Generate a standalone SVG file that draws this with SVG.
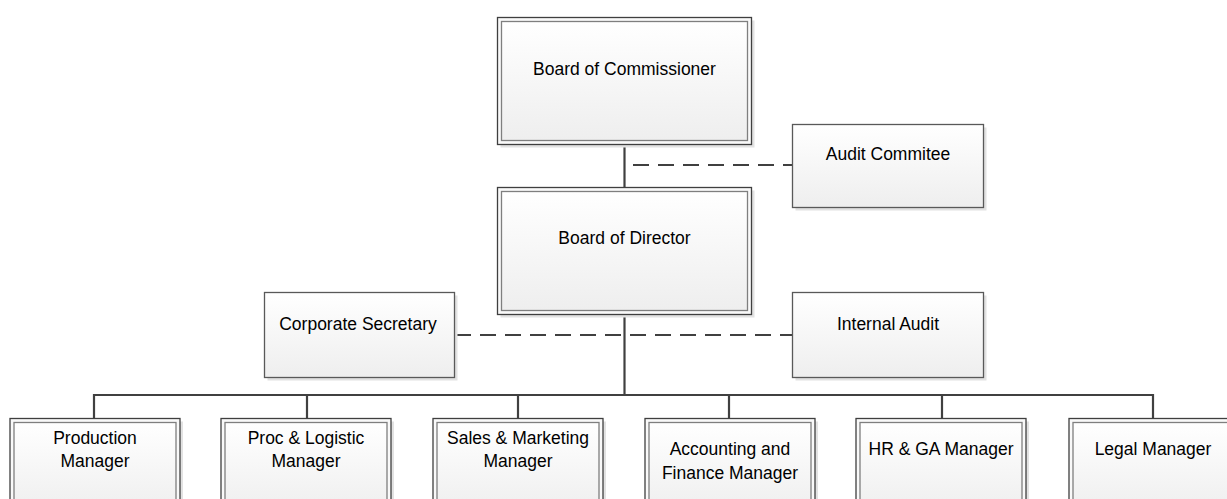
<svg xmlns="http://www.w3.org/2000/svg" width="1227" height="499" viewBox="0 0 1227 499">
<defs>
<linearGradient id="g" x1="0" y1="0" x2="0" y2="1">
<stop offset="0" stop-color="#ffffff"/>
<stop offset="1" stop-color="#eeeeee"/>
</linearGradient>
<style>
.sh{fill:#e2e2e2}
.out{fill:#f9f9f9;stroke:#3f3f3f;stroke-width:1.3}
.in{fill:url(#g);stroke:#7f7f7f;stroke-width:1.3}
.box{fill:url(#g);stroke:#595959;stroke-width:1.3}
.t{font-family:"Liberation Sans",Arial,sans-serif;font-size:17.5px;fill:#000;text-anchor:middle}
.ln{stroke:#404040;stroke-width:2.2;fill:none}
.ds{stroke:#404040;stroke-width:2.2;fill:none;stroke-dasharray:16 9}
</style>
</defs>
<rect width="1227" height="499" fill="#ffffff"/>
<g id="connectors">
<line class="ln" x1="624.5" y1="144.5" x2="624.5" y2="187.5"/>
<line class="ds" x1="633" y1="165" x2="792.5" y2="165"/>
<line class="ln" x1="624.5" y1="314.5" x2="624.5" y2="395"/>
<line class="ds" x1="455" y1="335" x2="792.5" y2="335"/>
<line class="ln" x1="94" y1="395" x2="1153" y2="395"/>
<line class="ln" x1="94" y1="394" x2="94" y2="418.5"/>
<line class="ln" x1="307" y1="395" x2="307" y2="418.5"/>
<line class="ln" x1="518" y1="395" x2="518" y2="418.5"/>
<line class="ln" x1="729" y1="395" x2="729" y2="418.5"/>
<line class="ln" x1="942" y1="395" x2="942" y2="418.5"/>
<line class="ln" x1="1153" y1="394" x2="1153" y2="418.5"/>
</g>
<g id="board-commissioner">
<rect class="sh" x="500.5" y="20.5" width="254" height="127"/>
<rect class="out" x="497.5" y="17.5" width="254" height="127"/>
<rect class="in" x="501.5" y="21.5" width="246" height="119"/>
<text class="t" x="624.5" y="75">Board of Commissioner</text>
</g>
<g id="audit-commitee">
<rect class="sh" x="795.5" y="127.5" width="191" height="83"/>
<rect class="box" x="792.5" y="124.5" width="191" height="83"/>
<text class="t" x="888" y="160">Audit Commitee</text>
</g>
<g id="board-director">
<rect class="sh" x="500.5" y="190.5" width="254" height="127"/>
<rect class="out" x="497.5" y="187.5" width="254" height="127"/>
<rect class="in" x="501.5" y="191.5" width="246" height="119"/>
<text class="t" x="624.5" y="244">Board of Director</text>
</g>
<g id="corporate-secretary">
<rect class="sh" x="267.5" y="295.5" width="190" height="85"/>
<rect class="box" x="264.5" y="292.5" width="190" height="85"/>
<text class="t" x="358" y="330">Corporate Secretary</text>
</g>
<g id="internal-audit">
<rect class="sh" x="795.5" y="295.5" width="191" height="85"/>
<rect class="box" x="792.5" y="292.5" width="191" height="85"/>
<text class="t" x="888" y="329.5">Internal Audit</text>
</g>
<g id="production-manager">
<rect class="sh" x="13" y="421.5" width="170" height="100"/>
<rect class="out" x="10" y="418.5" width="170" height="100"/>
<rect class="in" x="14" y="422.5" width="162" height="92"/>
<text class="t" x="95" y="444">Production</text>
<text class="t" x="95" y="467">Manager</text>
</g>
<g id="proc-logistic-manager">
<rect class="sh" x="224" y="421.5" width="170" height="100"/>
<rect class="out" x="221" y="418.5" width="170" height="100"/>
<rect class="in" x="225" y="422.5" width="162" height="92"/>
<text class="t" x="306" y="444">Proc &amp; Logistic</text>
<text class="t" x="306" y="467">Manager</text>
</g>
<g id="sales-marketing-manager">
<rect class="sh" x="436" y="421.5" width="170" height="100"/>
<rect class="out" x="433" y="418.5" width="170" height="100"/>
<rect class="in" x="437" y="422.5" width="162" height="92"/>
<text class="t" x="518" y="444">Sales &amp; Marketing</text>
<text class="t" x="518" y="467">Manager</text>
</g>
<g id="accounting-finance-manager">
<rect class="sh" x="648" y="421.5" width="170" height="100"/>
<rect class="out" x="645" y="418.5" width="170" height="100"/>
<rect class="in" x="649" y="422.5" width="162" height="92"/>
<text class="t" x="730" y="455">Accounting and</text>
<text class="t" x="730" y="479">Finance Manager</text>
</g>
<g id="hr-ga-manager">
<rect class="sh" x="859" y="421.5" width="170" height="100"/>
<rect class="out" x="856" y="418.5" width="170" height="100"/>
<rect class="in" x="860" y="422.5" width="162" height="92"/>
<text class="t" x="941" y="455">HR &amp; GA Manager</text>
</g>
<g id="legal-manager">
<rect class="sh" x="1072" y="421.5" width="170" height="100"/>
<rect class="out" x="1069" y="418.5" width="170" height="100"/>
<rect class="in" x="1073" y="422.5" width="162" height="92"/>
<text class="t" x="1153" y="455">Legal Manager</text>
</g>
</svg>
